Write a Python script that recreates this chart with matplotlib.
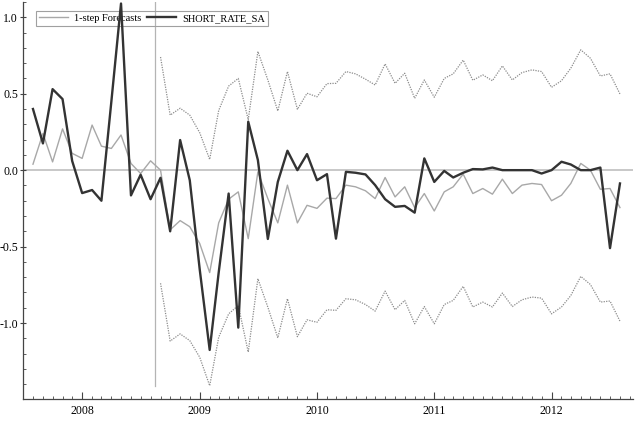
import numpy as np
import pandas as pd
import matplotlib
matplotlib.use('Agg')
import matplotlib.pyplot as plt
import matplotlib.dates as mdates
from matplotlib.ticker import MultipleLocator

# monthly observations, Aug 2007 .. Aug 2012
dates = pd.date_range('2007-08-01', periods=61, freq='MS')

short_rate = [0.40, 0.175, 0.53, 0.465, 0.06, -0.15, -0.13, -0.20, 0.45, 1.09,
              -0.165, -0.03, -0.19, -0.05, -0.40, 0.197, -0.066, -0.65, -1.176, -0.67,
              -0.153, -1.03, 0.317, 0.066, -0.45, -0.077, 0.127, 0.0, 0.105, -0.066,
              -0.026, -0.448, -0.011, -0.017, -0.028, -0.098, -0.19, -0.24, -0.234, -0.278,
              0.077, -0.077, -0.005, -0.048, -0.017, 0.007, 0.005, 0.017, 0.0, 0.0,
              0.0, 0.0, -0.022, 0.0, 0.055, 0.037, 0.0, 0.0, 0.017, -0.51,
              -0.087]

forecast = [0.039, 0.24, 0.054, 0.27, 0.11, 0.077, 0.295, 0.157, 0.142, 0.23,
            0.044, -0.022, 0.061, 0.0, -0.39, -0.33, -0.37, -0.48, -0.67, -0.345,
            -0.19, -0.142, -0.448, -0.011, -0.186, -0.345, -0.098, -0.345, -0.23, -0.25,
            -0.183, -0.186, -0.098, -0.109, -0.135, -0.186, -0.048, -0.175, -0.109, -0.245,
            -0.153, -0.267, -0.142, -0.109, -0.026, -0.153, -0.12, -0.157, -0.059, -0.153,
            -0.098, -0.087, -0.094, -0.20, -0.164, -0.087, 0.044, 0.0, -0.125, -0.12,
            -0.245]

# error bands only exist from Sep 2008 on (index 13)
band_start = 13
upper = [0.74, 0.36, 0.405, 0.36, 0.245, 0.07, 0.39, 0.55, 0.60, 0.33,
         0.776, 0.59, 0.387, 0.645, 0.398, 0.503, 0.48, 0.566, 0.568, 0.645,
         0.63, 0.595, 0.557, 0.695, 0.568, 0.634, 0.47, 0.59, 0.477, 0.60,
         0.63, 0.72, 0.588, 0.623, 0.585, 0.682, 0.59, 0.638, 0.656, 0.645,
         0.542, 0.585, 0.667, 0.787, 0.732, 0.616, 0.63, 0.498]
lower = [-0.74, -1.118, -1.071, -1.115, -1.224, -1.41, -1.093, -0.94, -0.885, -1.19,
         -0.71, -0.896, -1.097, -0.841, -1.089, -0.979, -0.995, -0.913, -0.917, -0.841,
         -0.848, -0.879, -0.922, -0.791, -0.913, -0.852, -1.005, -0.892, -1.005, -0.879,
         -0.852, -0.76, -0.895, -0.863, -0.895, -0.804, -0.892, -0.848, -0.83, -0.837,
         -0.94, -0.895, -0.82, -0.695, -0.748, -0.863, -0.856, -0.988]

split_date = pd.Timestamp('2008-08-14')

plt.rcParams['font.family'] = ['Liberation Serif', 'DejaVu Serif']
plt.rcParams['font.size'] = 8.5
plt.rcParams['axes.unicode_minus'] = False

fig = plt.figure(figsize=(6.36, 4.23), dpi=100)
ax = fig.add_axes([0.0362, 0.0567, 0.9588, 0.9386])

ax.axhline(0, color='#c8c8c8', lw=1.4, zorder=1)
ax.plot([split_date, split_date], [-1.413, 1.1], color='#b4b4b4', lw=0.9, zorder=1)

ax.plot(dates[band_start:], upper, color='#8c8c8c', lw=0.9, linestyle=(0, (1, 1)), zorder=2)
ax.plot(dates[band_start:], lower, color='#8c8c8c', lw=0.9, linestyle=(0, (1, 1)), zorder=2)
l1, = ax.plot(dates, forecast, color='#a8a8a8', lw=1.0, zorder=3, label='1-step Forecasts')
l2, = ax.plot(dates, short_rate, color='#333333', lw=1.7, zorder=4, label='SHORT_RATE_SA')

ax.set_ylim(-1.497, 1.1)
ax.set_xlim(pd.Timestamp('2007-07-01'), pd.Timestamp('2012-09-10'))

ax.xaxis.set_major_locator(mdates.YearLocator())
ax.xaxis.set_major_formatter(mdates.DateFormatter('%Y'))
ax.xaxis.set_minor_locator(mdates.MonthLocator())
ax.yaxis.set_major_locator(MultipleLocator(0.5))
ax.yaxis.set_minor_locator(MultipleLocator(0.1))
ax.yaxis.set_major_formatter(matplotlib.ticker.FormatStrFormatter('%.1f'))

ax.tick_params(axis='x', which='major', direction='in', length=5, width=0.8, color='#444444', pad=4)
ax.tick_params(axis='y', which='major', direction='inout', length=5, width=0.8, color='#444444', pad=1)
ax.tick_params(which='minor', direction='in', length=2, width=0.6, color='#444444')
for s in ['top', 'right']:
    ax.spines[s].set_visible(False)
for s in ['left', 'bottom']:
    ax.spines[s].set_color('#444444')
    ax.spines[s].set_linewidth(0.9)

leg = ax.legend(handles=[l1, l2], ncol=2, loc='upper left', bbox_to_anchor=(0.021, 0.978),
                borderaxespad=0, fancybox=False, edgecolor='#a0a0a0', facecolor='none',
                framealpha=1, handlelength=2.8, handletextpad=0.6, columnspacing=0.5,
                borderpad=0.3, fontsize=7.5)
leg.get_frame().set_linewidth(0.8)
leg.set_zorder(1)

fig.savefig('out.png', dpi=100)
